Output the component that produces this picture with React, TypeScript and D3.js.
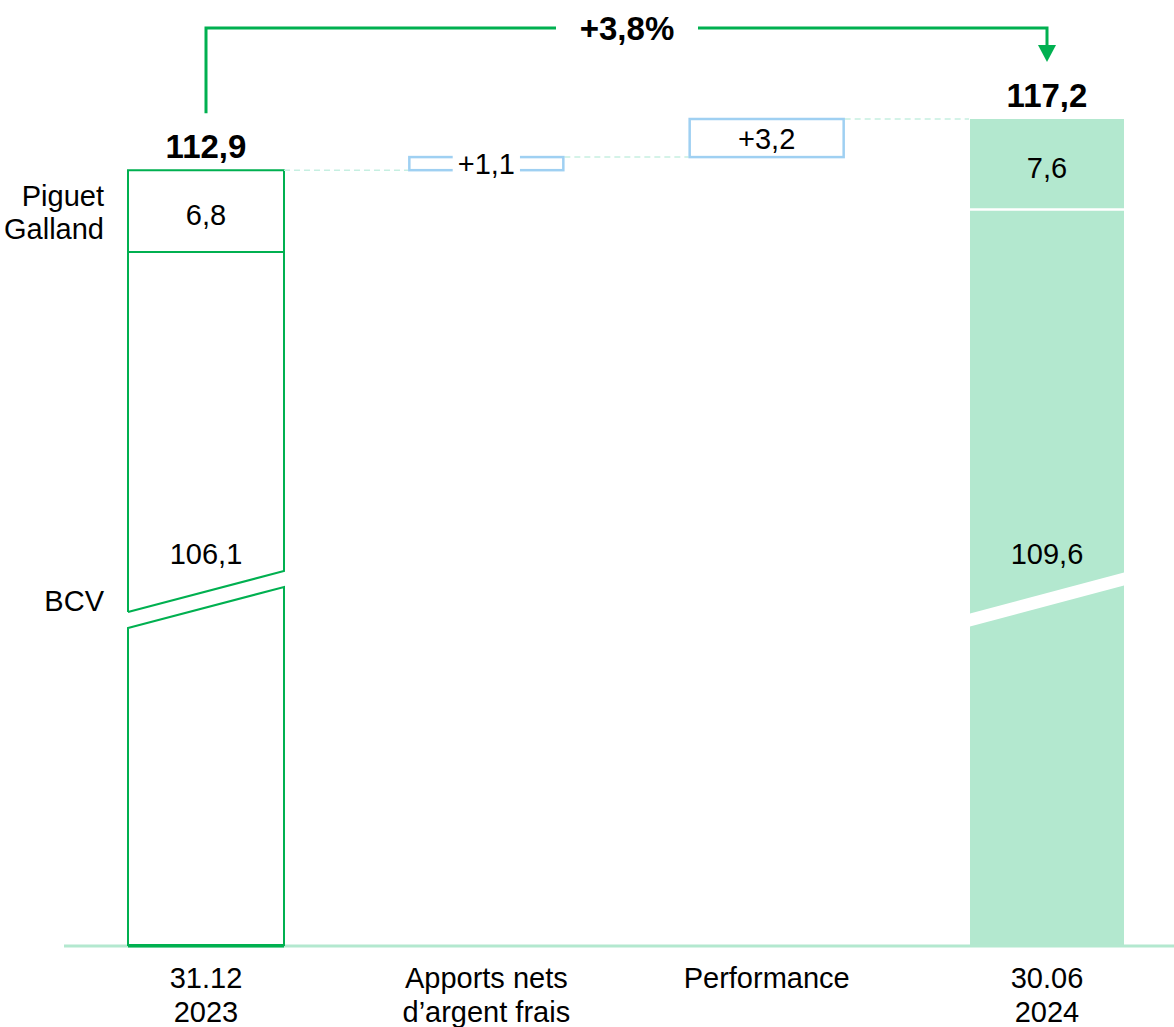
import { useEffect, useRef } from 'react';
import * as d3 from 'd3';

// Actifs sous gestion (CHF mrd)
const categories = ['31.12\n2023', 'Apports nets\nd\u2019argent frais', 'Performance', '30.06\n2024'];
const bcvValues = [106.1, 109.6];
const pgValues = [6.8, 7.6];
const deltas = [1.1, 3.2];
const deltaLabels = ['+1,1', '+3,2'];
const totalLabels = ['112,9', '117,2'];
const growthLabel = '+3,8%';
const segmentNames = [['Piguet', 'Galland'], ['BCV']];

const W = 1174;
const H = 1027;
const AXIS_FLOOR = 47.8; // valeur cachée par la coupure d'axe
const GREEN = '#00b050';
const LIGHT_GREEN = '#b3e8cf';
const BLUE = '#9fd0f2';
const FONT = '"Liberation Sans", Arial, sans-serif';
const fmt = (v: number) => v.toFixed(1).replace('.', ',');

export default function App() {
  const svgRef = useRef<SVGSVGElement>(null);

  useEffect(() => {
    if (!svgRef.current) return;
    const svg = d3.select(svgRef.current);
    svg.selectAll('*').remove();

    const baseline = 945;
    const totals = [bcvValues[0] + pgValues[0], bcvValues[1] + pgValues[1]];
    const y = d3.scaleLinear().domain([AXIS_FLOOR, totals[1]]).range([baseline, 119]);
    const x = d3.scalePoint<string>().domain(categories).range([206, 1047]);
    const barW = 156;

    // ligne de base
    svg.append('line')
      .attr('x1', 64).attr('x2', W).attr('y1', baseline + 1).attr('y2', baseline + 1)
      .attr('stroke', LIGHT_GREEN).attr('stroke-width', 3);

    // coupure d'axe
    const breakCenterLeft = 620;
    const breakRise = 41;
    const breakLine = (x0: number, off: number) => [
      [x0, breakCenterLeft + off],
      [x0 + barW, breakCenterLeft - breakRise + off],
    ];

    // barre de départ (contour)
    {
      const cx = x(categories[0])!;
      const x0 = cx - barW / 2;
      const x1 = cx + barW / 2;
      const top = y(totals[0]);
      const up = breakLine(x0, -8);
      const lo = breakLine(x0, 8);
      const g = svg.append('g').attr('fill', 'none').attr('stroke', GREEN).attr('stroke-width', 2);
      g.append('path').attr('d', d3.line()([[x0, up[0][1]], [x0, top], [x1, top], [x1, up[1][1]], [x0, up[0][1]]] as [number, number][]));
      g.append('path').attr('d', d3.line()([[x0, lo[0][1]], [x1, lo[1][1]], [x1, baseline], [x0, baseline]] as [number, number][]) + 'Z');
      g.append('line').attr('x1', x0).attr('x2', x1).attr('y1', y(bcvValues[0]) + 1).attr('y2', y(bcvValues[0]) + 1);
      svg.append('line').attr('x1', x0).attr('x2', x1).attr('y1', baseline + 1).attr('y2', baseline + 1)
        .attr('stroke', GREEN).attr('stroke-width', 3);
    }

    // barre d'arrivée (pleine)
    {
      const cx = x(categories[3])!;
      const x0 = cx - barW / 2 + 1;
      const x1 = cx + barW / 2 - 1;
      const top = y(totals[1]);
      const up = breakLine(x0, -6.5);
      const lo = breakLine(x0, 6.5);
      svg.append('path').attr('fill', LIGHT_GREEN)
        .attr('d', d3.line()([[x0, up[0][1]], [x0, top], [x1, top], [x1, up[1][1]]] as [number, number][]) + 'Z');
      svg.append('path').attr('fill', LIGHT_GREEN)
        .attr('d', d3.line()([[x0, lo[0][1]], [x1, lo[1][1]], [x1, baseline], [x0, baseline]] as [number, number][]) + 'Z');
      svg.append('line').attr('x1', x0).attr('x2', x1).attr('y1', y(bcvValues[1])).attr('y2', y(bcvValues[1]))
        .attr('stroke', '#fff').attr('stroke-width', 2.5);
    }

    // étapes intermédiaires
    let running = totals[0];
    const steps = deltas.map((d, i) => {
      const s = { cat: categories[i + 1], from: running, to: running + d, label: deltaLabels[i] };
      running += d;
      return s;
    });

    // connecteurs pointillés
    const levels = [totals[0], steps[0].to, steps[1].to];
    levels.forEach((lv, i) => {
      svg.append('line')
        .attr('x1', x(categories[i])! + barW / 2).attr('x2', x(categories[i + 1])! - barW / 2)
        .attr('y1', y(lv)).attr('y2', y(lv))
        .attr('stroke', '#c6efe1').attr('stroke-width', 1.5).attr('stroke-dasharray', '6,4');
    });

    steps.forEach((s) => {
      const cx = x(s.cat)!;
      const yt = y(s.to);
      const yb = y(s.from);
      svg.append('rect')
        .attr('x', cx - barW / 2 + 1).attr('y', yt).attr('width', barW - 2).attr('height', yb - yt)
        .attr('fill', '#fff').attr('stroke', BLUE).attr('stroke-width', 2.5);
      const t = svg.append('text')
        .attr('x', cx).attr('y', (yt + yb) / 2 + 10.5)
        .attr('text-anchor', 'middle').attr('font-size', 29).attr('font-family', FONT).attr('fill', '#000')
        .text(s.label);
      const bb = (t.node() as SVGTextElement).getBBox();
      if (yb - yt < bb.height) {
        svg.insert('rect', () => t.node())
          .attr('x', bb.x - 5).attr('y', yt - 3).attr('width', bb.width + 10).attr('height', yb - yt + 6)
          .attr('fill', '#fff');
      }
    });

    // étiquettes des segments
    const txt = (tx: number, ty: number, s: string, opts: { size?: number; bold?: boolean; anchor?: string } = {}) =>
      svg.append('text')
        .attr('x', tx).attr('y', ty)
        .attr('text-anchor', opts.anchor ?? 'middle')
        .attr('font-size', opts.size ?? 29)
        .attr('font-weight', opts.bold ? 'bold' : 'normal')
        .attr('font-family', FONT).attr('fill', '#000')
        .text(s);

    [0, 3].forEach((ci, k) => {
      const cx = x(categories[ci])!;
      const top = y(totals[k]);
      const mid = y(bcvValues[k]);
      txt(cx, (top + mid) / 2 + 14, fmt(pgValues[k]));
      txt(cx, 564, fmt(bcvValues[k]));
      txt(cx, top - 12, totalLabels[k], { size: 33, bold: true });
    });

    // noms des segments
    const nameX = 104;
    segmentNames[0].forEach((n, i) => txt(nameX, 206 + i * 33, n, { anchor: 'end' }));
    txt(nameX, 611, segmentNames[1][0], { anchor: 'end' });

    // libellés des catégories
    categories.forEach((c) => {
      c.split('\n').forEach((line, i) => {
        txt(x(c)!, 988 + i * 34, line);
      });
    });

    // flèche de croissance
    const ax0 = x(categories[0])!;
    const ax1 = x(categories[3])!;
    const ay = 28;
    const g = svg.append('g').attr('stroke', GREEN).attr('stroke-width', 3).attr('fill', 'none');
    g.append('path').attr('d', d3.line()([[ax0, y(totals[0]) - 57], [ax0, ay], [556, ay]] as [number, number][]));
    g.append('path').attr('d', d3.line()([[698, ay], [ax1, ay], [ax1, 46]] as [number, number][]));
    svg.append('path').attr('fill', GREEN)
      .attr('d', d3.line()([[ax1 - 9, 45], [ax1 + 9, 45], [ax1, 62]] as [number, number][]) + 'Z');
    txt((556 + 698) / 2, 40, growthLabel, { size: 33, bold: true });
  }, []);

  return (
    <svg
      ref={svgRef}
      width={W}
      height={H}
      style={{ position: 'absolute', left: 0, top: 0, background: '#fff' }}
    />
  );
}
